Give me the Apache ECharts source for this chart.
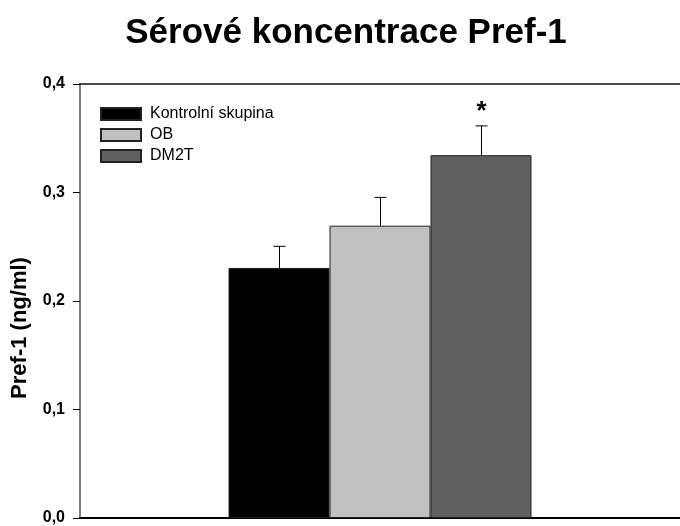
<!DOCTYPE html>
<html>
<head>
<meta charset="utf-8">
<script src="https://cdn.jsdelivr.net/npm/echarts@6/dist/echarts.min.js"></script>
<style>
  html, body { margin: 0; padding: 0; background: #fff; }
  #chart { width: 680px; height: 526px; }
</style>
</head>
<body>
<div id="chart"></div>
<script>
// Serum Pref-1 levels per group (ng/ml), mean and SEM
const groups = ['Kontrolní skupina', 'OB', 'DM2T'];
const means = [0.2305, 0.2694, 0.3344];
const sems = [0.0199, 0.0261, 0.0270];
const significant = [false, false, true];
const groupColors = ['#000000', '#c0c0c0', '#606060'];
const yTicks = [0, 0.1, 0.2, 0.3, 0.4];
const yTickLabels = ['0,0', '0,1', '0,2', '0,3', '0,4'];
const category = ['Pref-1'];

const FONT = 'Liberation Sans, Arial, Helvetica, sans-serif';
const BAR_W = 101;

const chart = echarts.init(document.getElementById('chart'), null, { renderer: 'canvas' });

const barSeries = groups.map((g, i) => ({
  name: g,
  type: 'bar',
  data: [means[i]],
  barWidth: BAR_W,
  barGap: '0%',
  itemStyle: { color: groupColors[i], borderColor: '#222', borderWidth: 1 },
  z: 2
}));

// one-sided (upper) error bars, with a significance mark where flagged
const errorSeries = groups.map((g, i) => ({
  type: 'custom',
  name: g + ' SEM',
  data: [[0, means[i], means[i] + sems[i]]],
  z: 3,
  renderItem: function (params, api) {
    const base = api.coord([api.value(0), api.value(1)]);
    const top = api.coord([api.value(0), api.value(2)]);
    // shift to this series' bar centre within the category band
    const x = Math.round(base[0] + (i - 1) * BAR_W) + 0.5;
    const children = [
      { type: 'line', shape: { x1: x, y1: base[1], x2: x, y2: top[1] }, style: { stroke: '#000', lineWidth: 1 } },
      { type: 'line', shape: { x1: x - 6, y1: top[1], x2: x + 6, y2: top[1] }, style: { stroke: '#000', lineWidth: 1 } }
    ];
    if (significant[i]) {
      children.push({
        type: 'text',
        style: { text: '*', x: x, y: top[1] - 1, align: 'center', verticalAlign: 'bottom', font: 'bold 26px ' + FONT, fill: '#000' }
      });
    }
    return { type: 'group', children: children };
  }
}));

chart.setOption({
  animation: false,
  backgroundColor: '#fff',
  grid: { left: 80, top: 84, width: 608, height: 435, containLabel: false },
  legend: {
    data: groups,
    orient: 'vertical',
    left: 95,
    top: 101,
    itemWidth: 40,
    itemHeight: 12,
    itemGap: 5,
    icon: 'rect',
    textStyle: { fontFamily: FONT, fontSize: 16, color: '#000', padding: [0, 0, 0, 4] },
    selectedMode: false
  },
  xAxis: [
    {
      type: 'category', data: category, position: 'bottom',
      axisLine: { show: true, lineStyle: { color: '#000', width: 2 } },
      axisTick: { show: false }, axisLabel: { show: false }
    },
    {
      type: 'category', data: category, position: 'top',
      axisLine: { show: true, lineStyle: { color: '#111', width: 1.5 } },
      axisTick: { show: false }, axisLabel: { show: false }
    }
  ],
  yAxis: {
    type: 'value', min: 0, max: 0.4, interval: 0.1,
    axisLine: { show: true, lineStyle: { color: '#555', width: 1.5 } },
    axisTick: { show: true, inside: false, length: 7, lineStyle: { color: '#000' } },
    splitLine: { show: false },
    axisLabel: {
      margin: 15,
      fontFamily: FONT, fontWeight: 'bold', fontSize: 16, color: '#000',
      formatter: function (v) {
        const k = yTicks.findIndex(t => Math.abs(t - v) < 1e-9);
        return k >= 0 ? yTickLabels[k] : '';
      }
    }
  },
  graphic: [
    {
      type: 'text', x: 346, y: 16,
      style: { text: 'Sérové koncentrace Pref-1', font: 'bold 35px ' + FONT, fill: '#000', align: 'center', verticalAlign: 'top' }
    },
    {
      type: 'text', x: 20, y: 328, rotation: Math.PI / 2,
      style: { text: 'Pref-1 (ng/ml)', font: 'bold 22px ' + FONT, fill: '#000', align: 'center', verticalAlign: 'middle' }
    }
  ],
  series: barSeries.concat(errorSeries)
});
</script>
</body>
</html>
